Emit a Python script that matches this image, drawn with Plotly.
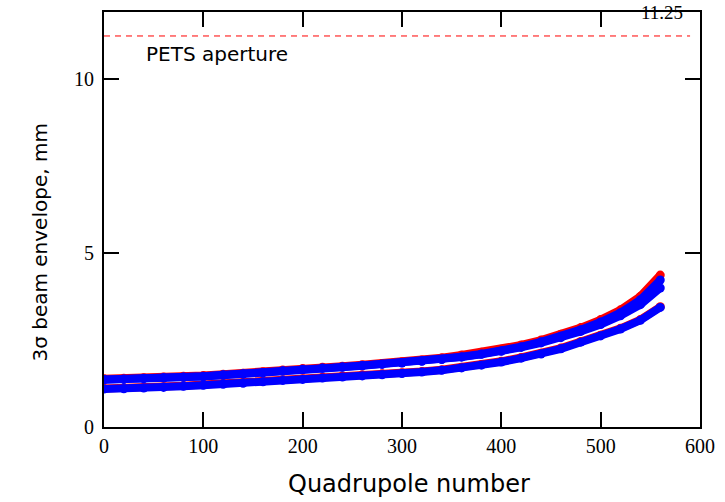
import plotly.graph_objects as go

# Quadrupole index samples
quad = [0, 20, 40, 60, 80, 100, 120, 140, 160, 180, 200, 220, 240, 260, 280,
        300, 320, 340, 360, 380, 400, 420, 440, 460, 480, 500, 520, 540, 560]

# 3-sigma envelopes (mm)
red_upper = [1.39, 1.40, 1.42, 1.44, 1.46, 1.48, 1.52, 1.55, 1.59, 1.64, 1.68, 1.72, 1.75, 1.79, 1.83,
             1.88, 1.93, 1.99, 2.07, 2.15, 2.24, 2.36, 2.50, 2.67, 2.86, 3.09, 3.37, 3.76, 4.37]
blue_upper1 = [1.37, 1.38, 1.40, 1.42, 1.44, 1.46, 1.50, 1.53, 1.57, 1.62, 1.66, 1.70, 1.73, 1.77, 1.81,
               1.85, 1.90, 1.95, 2.02, 2.10, 2.19, 2.31, 2.45, 2.61, 2.80, 3.02, 3.29, 3.66, 4.23]
blue_upper2 = [1.36, 1.37, 1.39, 1.41, 1.43, 1.45, 1.49, 1.52, 1.56, 1.61, 1.65, 1.69, 1.72, 1.76, 1.80,
               1.84, 1.89, 1.94, 2.01, 2.09, 2.18, 2.29, 2.42, 2.57, 2.75, 2.95, 3.20, 3.52, 4.00]
red_lower = [1.11, 1.12, 1.14, 1.16, 1.19, 1.22, 1.25, 1.28, 1.32, 1.36, 1.39, 1.43, 1.47, 1.50, 1.53,
             1.56, 1.60, 1.65, 1.72, 1.80, 1.89, 2.00, 2.12, 2.27, 2.46, 2.64, 2.84, 3.09, 3.46]
blue_lower = [1.09, 1.10, 1.12, 1.14, 1.17, 1.20, 1.23, 1.26, 1.30, 1.34, 1.37, 1.41, 1.44, 1.47, 1.50,
              1.54, 1.58, 1.63, 1.70, 1.78, 1.87, 1.98, 2.10, 2.25, 2.44, 2.62, 2.82, 3.07, 3.44]

aperture = 11.25
aperture_label = "PETS aperture"
x_title = "Quadrupole number"
y_title = "3σ beam envelope, mm"
x_ticks = [0, 100, 200, 300, 400, 500, 600]
y_ticks = [0, 5, 10]

RED = "#ff0000"
BLUE = "#0000ff"

fig = go.Figure()

def band(y, color):
    fig.add_trace(go.Scatter(
        x=quad, y=y, mode="lines+markers",
        line=dict(color=color, width=8),
        marker=dict(color=color, size=9),
        showlegend=False, hoverinfo="skip"))

band(red_upper, RED)
band(red_lower, RED)
band(blue_upper1, BLUE)
band(blue_upper2, BLUE)
band(blue_lower, BLUE)

# PETS aperture line
fig.add_trace(go.Scatter(
    x=[0, 590], y=[aperture, aperture], mode="lines",
    line=dict(color=RED, width=1, dash="6px,5px"),
    showlegend=False, hoverinfo="skip"))

fig.add_annotation(x=40, y=10.74, xref="x", yref="y", text=aperture_label,
                   showarrow=False, xanchor="left", yanchor="middle",
                   font=dict(family="DejaVu Sans", size=20, color="black"))
fig.add_annotation(x=0.975, y=1.0, xref="paper", yref="paper", text=f"{aperture:.2f}",
                   showarrow=False, xanchor="right", yanchor="middle",
                   font=dict(family="Liberation Serif", size=19, color="black"))

# axis titles as annotations (positioned as in the original)
fig.add_annotation(x=0.512, y=-0.138, xref="paper", yref="paper", text=x_title,
                   showarrow=False, xanchor="center", yanchor="middle",
                   font=dict(family="DejaVu Sans", size=24, color="black"))
fig.add_annotation(x=-0.107, y=0.445, xref="paper", yref="paper", text=y_title,
                   showarrow=False, xanchor="center", yanchor="middle", textangle=-90,
                   font=dict(family="DejaVu Sans", size=20, color="black"))

axis_common = dict(
    showline=True, linecolor="black", linewidth=2, mirror="allticks",
    ticks="inside", ticklen=15, tickwidth=2, tickcolor="black",
    showgrid=False, zeroline=False,
    tickfont=dict(family="Liberation Serif", size=20, color="black"),
)

fig.update_xaxes(range=[0, 600], tickvals=x_ticks, ticktext=[str(v) for v in x_ticks],
                 **axis_common)
fig.update_yaxes(range=[0, 11.94], tickvals=y_ticks, ticktext=[str(v) for v in y_ticks],
                 ticklabelstandoff=4, **axis_common)

fig.update_layout(
    width=725, height=502,
    margin=dict(l=104, r=20, t=10, b=75),
    plot_bgcolor="white", paper_bgcolor="white",
)

fig.write_html("out.html", post_script="document.body.style.margin='0';",
               config={"displayModeBar": False})
